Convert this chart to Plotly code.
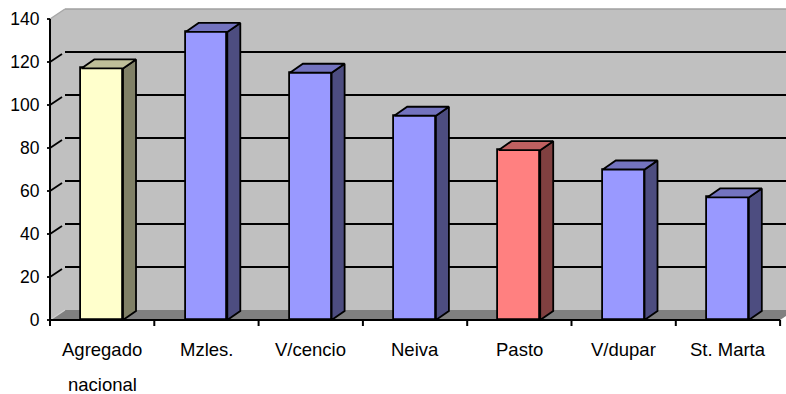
import plotly.graph_objects as go

# Category labels and values
categories = ["Agregado<br>nacional", "Mzles.", "V/cencio", "Neiva", "Pasto", "V/dupar", "St. Marta"]
values = [117, 134, 115, 95, 79, 70, 57]
front_colors = ["#FFFFCC", "#9999FF", "#9999FF", "#9999FF", "#FF8080", "#9999FF", "#9999FF"]
side_colors = ["#808066", "#4D4D80", "#4D4D80", "#4D4D80", "#804040", "#4D4D80", "#4D4D80"]
top_colors = ["#BFBF99", "#7373BF", "#7373BF", "#7373BF", "#BF6060", "#7373BF", "#7373BF"]
y_ticks = [0, 20, 40, 60, 80, 100, 120, 140]

# Scale / 3D geometry (data units)
PX_X = 104.3          # pixels per category
PX_Y = 2.15           # pixels per value unit
WALL_DX = 15 / PX_X   # depth offset of the walls
WALL_DY = 10 / PX_Y
BAR_DX = 13 / PX_X    # depth offset of the columns
BAR_DY = 9 / PX_Y
BAR_W = 0.40
YMAX = 140
GRID_W = 1.8
EDGE_W = 1.8

x_lo = -0.5 - 3 / PX_X
x_hi = x_lo + 739 / PX_X
y_lo = -10 / PX_Y
y_hi = y_lo + 325 / PX_Y

n = len(values)
x_left = -0.5
x_right = n - 0.5

fig = go.Figure()


def path(pts):
    return "M " + " L ".join(f"{x},{y}" for x, y in pts) + " Z"


shapes = []
# back wall
shapes.append(dict(type="rect", xref="x", yref="y", layer="below",
                   x0=x_left + WALL_DX, x1=x_hi + 1, y0=WALL_DY, y1=YMAX + WALL_DY,
                   fillcolor="#C0C0C0", line=dict(width=0)))
# left side wall
shapes.append(dict(type="path", xref="x", yref="y", layer="below",
                   path=path([(x_left, 0), (x_left, YMAX), (x_left + WALL_DX, YMAX + WALL_DY),
                              (x_left + WALL_DX, WALL_DY)]),
                   fillcolor="#C0C0C0", line=dict(width=0)))
# floor
shapes.append(dict(type="path", xref="x", yref="y", layer="below",
                   path=path([(x_left, 0), (x_right, 0), (x_right + WALL_DX, WALL_DY),
                              (x_left + WALL_DX, WALL_DY)]),
                   fillcolor="#808080", line=dict(width=0)))
# wall top edges
shapes.append(dict(type="line", xref="x", yref="y", layer="below",
                   x0=x_left + WALL_DX, x1=x_hi + 1, y0=YMAX + WALL_DY, y1=YMAX + WALL_DY,
                   line=dict(color="#A0A0A0", width=1.5)))
shapes.append(dict(type="line", xref="x", yref="y", layer="below",
                   x0=x_left, x1=x_left + WALL_DX, y0=YMAX, y1=YMAX + WALL_DY,
                   line=dict(color="#A8A8A8", width=1.5)))
# floor's left edge
shapes.append(dict(type="line", xref="x", yref="y", layer="below",
                   x0=x_left, x1=x_left + WALL_DX, y0=0, y1=WALL_DY,
                   line=dict(color="#D0D0D0", width=1.2)))
# gridlines on the side wall and back wall
for v in y_ticks[1:-1]:
    shapes.append(dict(type="line", xref="x", yref="y", layer="below",
                       x0=x_left - 5 / PX_X, x1=x_left, y0=v, y1=v,
                       line=dict(color="black", width=GRID_W)))
    shapes.append(dict(type="line", xref="x", yref="y", layer="below",
                       x0=x_left, x1=x_left + 12 / PX_X, y0=v, y1=v + 12 / PX_X * WALL_DY / WALL_DX,
                       line=dict(color="black", width=GRID_W)))
    shapes.append(dict(type="line", xref="x", yref="y", layer="below",
                       x0=x_left + WALL_DX, x1=x_hi + 1, y0=v + WALL_DY, y1=v + WALL_DY,
                       line=dict(color="black", width=GRID_W)))
for v in (0, YMAX):
    shapes.append(dict(type="line", xref="x", yref="y", layer="below",
                       x0=x_left - 5 / PX_X, x1=x_left, y0=v, y1=v,
                       line=dict(color="black", width=GRID_W)))

# column front faces
fig.add_trace(go.Bar(
    x=list(range(n)), y=values, width=BAR_W,
    marker=dict(color=front_colors, line=dict(color="black", width=EDGE_W)),
    hoverinfo="skip", showlegend=False,
))

# column side and top faces
for i, v in enumerate(values):
    xr = i + BAR_W / 2
    xl = i - BAR_W / 2
    side = [(xr, 0), (xr + BAR_DX, BAR_DY), (xr + BAR_DX, v + BAR_DY), (xr, v), (xr, 0)]
    top = [(xl, v), (xr, v), (xr + BAR_DX, v + BAR_DY), (xl + BAR_DX, v + BAR_DY), (xl, v)]
    for pts, col in ((side, side_colors[i]), (top, top_colors[i])):
        fig.add_trace(go.Scatter(
            x=[p[0] for p in pts], y=[p[1] for p in pts],
            mode="lines", fill="toself", fillcolor=col,
            line=dict(color="black", width=EDGE_W),
            hoverinfo="skip", showlegend=False,
        ))

# axis lines
fig.add_trace(go.Scatter(x=[x_left, x_right], y=[0, 0], mode="lines",
                         line=dict(color="black", width=2), hoverinfo="skip", showlegend=False))
fig.add_trace(go.Scatter(x=[x_left, x_left], y=[0, YMAX], mode="lines",
                         line=dict(color="black", width=2), hoverinfo="skip", showlegend=False))
# category boundary ticks
tx, ty = [], []
for k in range(n + 1):
    tx += [x_left + k, x_left + k, None]
    ty += [0, -6 / PX_Y, None]
fig.add_trace(go.Scatter(x=tx, y=ty, mode="lines",
                         line=dict(color="black", width=2), hoverinfo="skip", showlegend=False))

# category labels
annotations = []
for i, c in enumerate(categories):
    lines = c.split("<br>")
    for j, t in enumerate(lines):
        annotations.append(dict(x=i, y=0, xref="x", yref="y", text=t, showarrow=False,
                                xanchor="center", yanchor="middle", yshift=-29 - 35 * j,
                                font=dict(family="Liberation Sans, Arial, sans-serif",
                                          size=18.5, color="black")))

fig.update_layout(
    width=786, height=394,
    margin=dict(l=47, r=0, t=5, b=64),
    paper_bgcolor="white", plot_bgcolor="white",
    shapes=shapes, annotations=annotations,
    bargap=0,
    xaxis=dict(range=[x_lo, x_hi], showgrid=False, zeroline=False, showline=False,
               showticklabels=False, ticks=""),
    yaxis=dict(range=[y_lo, y_hi], showgrid=False, zeroline=False, showline=False,
               tickvals=y_ticks, ticks="outside", ticklen=3, tickcolor="rgba(0,0,0,0)",
               tickfont=dict(family="Liberation Sans, Arial, sans-serif", size=17.5, color="black")),
)

fig.write_html("out.html")
